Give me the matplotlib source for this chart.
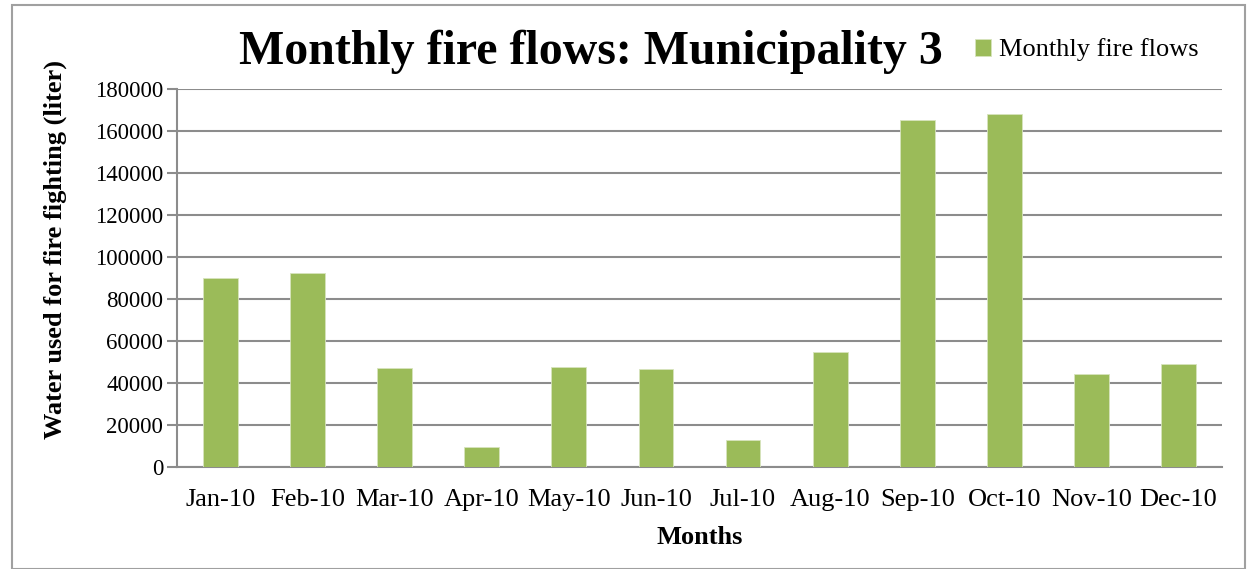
import matplotlib
matplotlib.use('Agg')
import matplotlib.pyplot as plt
from matplotlib.patches import Rectangle

plt.rcParams['font.family'] = 'Liberation Serif'

months = ['Jan-10', 'Feb-10', 'Mar-10', 'Apr-10', 'May-10', 'Jun-10',
          'Jul-10', 'Aug-10', 'Sep-10', 'Oct-10', 'Nov-10', 'Dec-10']
flows = [90000, 92400, 47100, 9500, 47600, 46500,
         12700, 54900, 165200, 168200, 44400, 48900]
yticks = list(range(0, 180001, 20000))

bar_color = '#9BBB59'
grid_color = '#8C8C8C'

W, H = 1254, 569
fig = plt.figure(figsize=(W / 100, H / 100), dpi=100)
ax = fig.add_axes([177 / W, 1 - 467 / H, (1222 - 177) / W, (467 - 89) / H])

x = range(len(months))
ax.bar(x, flows, width=0.4, color=bar_color, edgecolor='#D7E4BD', linewidth=0.6,
       label='Monthly fire flows', zorder=3)

ax.set_xlim(-0.5, len(months) - 0.5)
ax.set_ylim(0, 180000)
ax.set_yticks(yticks)
ax.set_yticklabels([str(v) for v in yticks], fontsize=16.5)
ax.set_xticks(list(x))
ax.set_xticklabels(months, fontsize=19)
ax.tick_params(axis='x', length=0, pad=16)
ax.tick_params(axis='y', length=7, width=1.5, color=grid_color, pad=3)
ax.grid(axis='y', color=grid_color, linewidth=1.5, zorder=0)

for s in ['top', 'right']:
    ax.spines[s].set_visible(False)
for s in ['left', 'bottom']:
    ax.spines[s].set_color(grid_color)
    ax.spines[s].set_linewidth(1.5)

fig.text(700 / W, 1 - 537 / H, 'Months', fontsize=19, fontweight='bold',
         ha='center', va='center')
fig.text(55 / W, 1 - 250 / H, 'Water used for fire fighting (liter)', fontsize=19,
         fontweight='bold', ha='center', va='center', rotation=90)

fig.text(591 / W, 1 - 52 / H, 'Monthly fire flows: Municipality 3',
         fontsize=34.5, fontweight='bold', ha='center', va='center')

leg = ax.legend(loc='center left', bbox_to_anchor=(962 / W, 1 - 50 / H),
                bbox_transform=fig.transFigure, frameon=False, fontsize=19,
                handlelength=0.6, handleheight=0.6, handletextpad=0.3,
                borderpad=0)

fig.patches.append(Rectangle((12 / W, 0), 1233 / W, 1 - 5 / H,
                             transform=fig.transFigure, fill=False,
                             edgecolor='#A0A0A0', linewidth=1.5))

fig.savefig('out.png', dpi=100)
